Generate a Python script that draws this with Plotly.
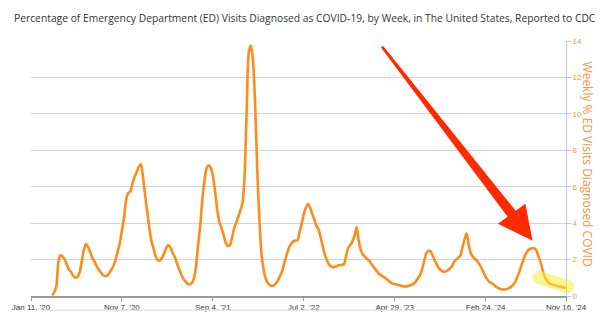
import plotly.graph_objects as go
import pandas as pd
import numpy as np

title_text = "Percentage of Emergency Department (ED) Visits Diagnosed as COVID-19, by Week, in The United States, Reported to CDC"
y_title = "Weekly % ED Visits Diagnosed COVID"

axis_start = "2020-01-11"
axis_end = "2024-11-16"
first_week = "2020-03-21"

pct_ed_covid = [
    0.05, 0.2, 0.55, 1.9, 2.25, 2.15, 2.0, 1.7, 1.45, 1.3,
    1.1, 1.0, 1.05, 1.3, 1.9, 2.55, 2.85, 2.7, 2.4, 2.1,
    1.9, 1.65, 1.45, 1.3, 1.15, 1.1, 1.12, 1.25, 1.45, 1.65,
    2.0, 2.45, 2.9, 3.6, 4.3, 5.3, 5.65, 5.75, 6.2, 6.55,
    6.8, 7.1, 7.23, 6.5, 5.5, 4.6, 3.7, 3.0, 2.6, 2.15,
    1.95, 1.95, 2.1, 2.35, 2.65, 2.8, 2.65, 2.35, 2.15, 1.8,
    1.5, 1.2, 0.95, 0.8, 0.68, 0.63, 0.7, 0.95, 1.6, 2.8,
    3.8, 5.3, 6.3, 7.0, 7.18, 7.05, 6.6, 5.8, 4.8, 4.1,
    3.75, 3.4, 2.95, 2.75, 2.78, 3.15, 3.7, 4.0, 4.35, 4.7,
    5.1, 6.6, 10.2, 13.4, 13.75, 12.9, 10.5, 6.9, 4.2, 2.3,
    1.45, 0.95, 0.72, 0.6, 0.56, 0.6, 0.72, 0.9, 1.15, 1.45,
    1.9, 2.3, 2.65, 2.85, 3.0, 3.05, 3.05, 3.5, 3.95, 4.5,
    4.85, 5.05, 4.85, 4.5, 4.2, 3.85, 3.65, 3.2, 2.7, 2.25,
    1.95, 1.72, 1.62, 1.58, 1.62, 1.66, 1.7, 1.7, 1.75, 2.2,
    2.65, 2.8, 3.0, 3.3, 3.79, 3.0, 2.5, 2.27, 2.15, 2.02,
    1.95, 1.75, 1.6, 1.45, 1.3, 1.18, 1.1, 1.03, 0.95, 0.85,
    0.75, 0.68, 0.65, 0.62, 0.6, 0.56, 0.53, 0.52, 0.53, 0.56,
    0.62, 0.68, 0.8, 0.98, 1.15, 1.5, 1.95, 2.35, 2.48, 2.45,
    2.2, 1.95, 1.7, 1.5, 1.4, 1.33, 1.35, 1.4, 1.5, 1.62,
    1.85, 2.0, 2.1, 2.2, 2.65, 3.1, 3.44, 2.8, 2.35, 2.15,
    2.02, 1.93, 1.75, 1.55, 1.3, 1.05, 0.88, 0.75, 0.7, 0.6,
    0.5, 0.44, 0.38, 0.36, 0.36, 0.38, 0.43, 0.5, 0.62, 0.78,
    1.05, 1.35, 1.7, 2.05, 2.3, 2.5, 2.58, 2.62, 2.62, 2.5,
    2.15, 1.85, 1.4, 1.05, 0.85, 0.7, 0.65, 0.6, 0.58, 0.55,
    0.52, 0.5, 0.47, 0.45,
]

tick_dates = ["2020-01-11", "2020-11-07", "2021-09-04", "2022-07-02",
              "2023-04-29", "2024-02-24", "2024-11-16"]
tick_labels = ["Jan 11, '20", "Nov 7, '20", "Sep 4, '21", "Jul 2, '22",
               "Apr 29, '23", "Feb 24, '24", "Nov 16, '24"]
y_ticks = [0, 2, 4, 6, 8, 10, 12, 14]

week_dates = pd.date_range(first_week, periods=len(pct_ed_covid), freq="7D")

W, H = 600, 324
L, R, T, B = 22, 566, 41, 308

def paper(px, py):
    return (px - L) / (R - L), (B - py) / (B - T)

def path_from(points, closed=True):
    pts = [paper(x, y) for x, y in points]
    s = "M %.5f %.5f " % pts[0] + " ".join("L %.5f %.5f" % p for p in pts[1:])
    return s + (" Z" if closed else "")

fig = go.Figure()
fig.add_trace(go.Scatter(
    x=week_dates, y=pct_ed_covid, mode="lines",
    line=dict(color="#FF8C1A", width=2.6, shape="spline", smoothing=0.7),
    yaxis="y", showlegend=False, hoverinfo="skip"))

# red arrow (decoration), pixel geometry converted to paper coordinates
tail = np.array([379.0, 47.0]); tip = np.array([531.9, 250.0])
u = (tip - tail) / np.linalg.norm(tip - tail)
n = np.array([u[1], -u[0]])
base = tail + u * 219
arrow_pts = [tail + n * 1.4, base + n * 5.2, base + n * 17.5, tip,
             base - n * 17.5, base - n * 5.2, tail - n * 1.4]
fig.add_shape(type="path", xref="paper", yref="paper",
              path=path_from([tuple(p) for p in arrow_pts]),
              fillcolor="#FF2A00", line=dict(width=0), layer="above")

# yellow highlight capsule
P1 = np.array([538.5, 288.5]); P2 = np.array([567.5, 298.0]); r = 6.8
d = (P2 - P1) / np.linalg.norm(P2 - P1)
m = np.array([-d[1], d[0]])
k = 0.5523
A = P1 + r * m; Bp = P2 + r * m; C = P2 - r * m; D = P1 - r * m
E2 = P2 + r * d; E1 = P1 - r * d
def fmt(p):
    x, y = paper(*p)
    return "%.5f %.5f" % (x, y)
cap = ("M " + fmt(A) + " L " + fmt(Bp) +
       " C " + fmt(Bp + k * r * d) + " " + fmt(E2 + k * r * m) + " " + fmt(E2) +
       " C " + fmt(E2 - k * r * m) + " " + fmt(C + k * r * d) + " " + fmt(C) +
       " L " + fmt(D) +
       " C " + fmt(D - k * r * d) + " " + fmt(E1 - k * r * m) + " " + fmt(E1) +
       " C " + fmt(E1 + k * r * m) + " " + fmt(A - k * r * d) + " " + fmt(A) + " Z")
fig.add_shape(type="path", xref="paper", yref="paper", path=cap,
              fillcolor="rgba(248,236,60,0.55)", line=dict(width=0), layer="above")

# faint line below the axis labels
x0, y0 = paper(33, 323); x1, _ = paper(576, 323)
fig.add_shape(type="line", xref="paper", yref="paper", x0=x0, x1=x1, y0=y0, y1=y0,
              line=dict(color="#e6e6e6", width=1.5))

# titles
fig.add_annotation(text=title_text, xref="paper", yref="paper",
                   x=paper(300.5, 0)[0], y=paper(0, 16.5)[1], showarrow=False,
                   xanchor="center", yanchor="middle",
                   font=dict(family="Open Sans", size=10.3, color="#333333"))
fig.add_annotation(text=y_title, xref="paper", yref="paper",
                   x=paper(588, 0)[0], y=paper(0, 170)[1], showarrow=False,
                   textangle=90, xanchor="center", yanchor="middle",
                   font=dict(family="Open Sans", size=12, color="#F59446"))

fig.update_layout(
    width=W, height=H,
    margin=dict(l=L, r=W - R, t=T, b=H - B),
    paper_bgcolor="white", plot_bgcolor="white",
    xaxis=dict(type="date", range=[axis_start, axis_end],
               tickvals=tick_dates, ticktext=tick_labels,
               showgrid=False, zeroline=False,
               showline=True, linecolor="#999999", linewidth=1.5,
               ticks="outside", ticklen=3, tickcolor="#999999",
               tickfont=dict(family="Arial", size=8, color="#333333")),
    yaxis=dict(range=[0, 14], tickvals=y_ticks, side="right",
               showgrid=True, gridcolor="#d4d4d4", gridwidth=1,
               zeroline=False, showline=True, linecolor="#c8c8c8", linewidth=1,
               ticks="outside", ticklen=4, tickcolor="#c8c8c8",
               tickfont=dict(family="Arial", size=8, color="#F59446")),
)

fig.write_html("out.html")
